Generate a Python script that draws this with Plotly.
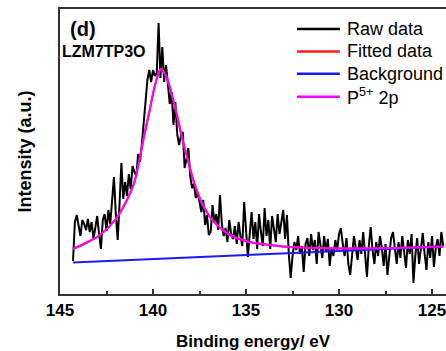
import plotly.graph_objects as go

# ---- data (intensity in arbitrary units) ----
raw_start = 144.3
raw_step = 0.1
raw_y = [
    33, 72, 79, 66, 58, 74, 70, 64, 75, 62, 72, 55, 68, 78, 60, 45, 74, 80, 63, 84,
    70, 96, 117, 80, 54, 90, 131, 95, 112, 98, 120, 105, 128, 122, 118, 140, 132, 150,
    172, 196, 214, 224, 212, 224, 218, 221, 271, 216, 247, 212, 229, 210, 190, 202,
    169, 192, 160, 149, 158, 162, 126, 135, 146, 118, 106, 110, 96, 102, 90, 82, 94,
    69, 79, 59, 62, 89, 72,
    80, 64, 99, 70, 58, 66, 52, 74, 60, 55, 68, 50, 72, 58, 48, 92, 66, 37, 60, 82,
    55, 72, 45, 80, 62, 48, 86, 58, 74, 45, 78, 66, 52, 80, 60, 72, 84, 55, 79, 40,
    16, 38, 52, 44, 58, 40, 48, 22, 50, 56, 38, 60, 44, 54, 30, 62, 48, 36, 58, 42,
    55, 28, 46, 38, 54, 44, 60, 66, 50, 38, 56, 30, 19, 42, 58, 46, 34, 54, 40, 62,
    36, 17, 48, 67, 44, 30, 52, 38, 58, 46, 28, 50, 19, 40, 56, 62, 42, 30, 52, 36,
    58, 44, 26, 54, 40, 60, 11, 38, 56, 30, 48, 61, 40, 24, 52, 36, 58, 27, 46, 55,
    38, 62, 48,
]
raw_x = [round(raw_start - raw_step * i, 2) for i in range(len(raw_y))]

fit_x = [144.3, 143.5, 142.85, 142.0, 141.4, 141.0, 140.7, 140.5, 140.2, 140.0,
         139.8, 139.57, 139.3, 139.0, 138.7, 138.44, 138.17, 137.8, 137.47, 136.94,
         136.5, 135.86, 134.8, 133.5, 132.6, 130.0, 127.0, 124.4]
fit_y = [45, 52, 59, 75, 94, 112, 137, 156, 182, 200,
         215, 225, 218, 200, 178, 156, 137, 112, 95, 77,
         68, 59, 52, 48.5, 47, 45.5, 46, 47.5]

bg_x = [144.3, 124.4]
bg_y = [31.5, 47.5]

x_ticks = [145, 140, 135, 130, 125]
x_minor = [142.5, 137.5, 132.5, 127.5]

series_names = ["Raw data", "Fitted data", "Background", "P<sup>5+</sup> 2p"]
series_colors = ["#000000", "#ff1a1a", "#1a1aff", "#ff00ff"]

font = "Liberation Sans, Arial, sans-serif"

fig = go.Figure()
fig.add_trace(go.Scatter(x=raw_x, y=raw_y, mode="lines", name=series_names[0],
                         line=dict(color=series_colors[0], width=2)))
fig.add_trace(go.Scatter(x=fit_x, y=fit_y, mode="lines", name=series_names[1],
                         line=dict(color=series_colors[1], width=2, shape="spline")))
fig.add_trace(go.Scatter(x=bg_x, y=bg_y, mode="lines", name=series_names[2],
                         line=dict(color=series_colors[2], width=2)))
fig.add_trace(go.Scatter(x=fit_x, y=fit_y, mode="lines", name=series_names[3],
                         line=dict(color=series_colors[3], width=2, shape="spline")))

# legend drawn as key lines + real text
leg_x0, leg_x1, leg_tx = 0.614, 0.725, 0.738
leg_rows = [0.930, 0.851, 0.773, 0.692]
shapes = []
annotations = []
for name, col, yy in zip(series_names, series_colors, leg_rows):
    shapes.append(dict(type="line", xref="paper", yref="paper",
                       x0=leg_x0, x1=leg_x1, y0=yy, y1=yy,
                       line=dict(color=col, width=2.5)))
    annotations.append(dict(text=name, xref="paper", yref="paper", x=leg_tx, y=yy,
                            xanchor="left", yanchor="middle", showarrow=False,
                            font=dict(family=font, size=18, color="#000")))

annotations += [
    dict(text="<b>(d)</b>", xref="paper", yref="paper", x=0.02, y=0.930,
         xanchor="left", yanchor="middle", showarrow=False,
         font=dict(family=font, size=20, color="#000")),
    dict(text="<b>LZM7TP3O</b>", xref="paper", yref="paper", x=0.0, y=0.8526,
         xanchor="left", yanchor="middle", showarrow=False,
         font=dict(family=font, size=16, color="#000")),
]

fig.update_layout(
    width=446, height=351,
    margin=dict(l=60, r=0, t=9, b=57),
    paper_bgcolor="white", plot_bgcolor="white",
    showlegend=False,
    font=dict(family=font, color="#000"),
    shapes=shapes,
    annotations=annotations,
)
fig.update_xaxes(
    range=[145, 124.25], tickvals=x_ticks,
    ticktext=["<b>%d</b>" % v for v in x_ticks],
    ticks="inside", ticklen=5, tickwidth=1.5, tickcolor="#333",
    minor=dict(tickvals=x_minor, ticks="inside", ticklen=3,
               tickwidth=1.5, tickcolor="#333"),
    showline=True, linecolor="#333", linewidth=1.5, mirror=True,
    showgrid=False, zeroline=False,
    ticklabeloverflow="allow",
    tickfont=dict(family=font, size=17, color="#000"),
    title=dict(text="<b>Binding energy/ eV</b>", standoff=17,
               font=dict(family=font, size=17, color="#000")),
)
fig.update_yaxes(
    range=[0, 285], showticklabels=False, ticks="",
    showline=True, linecolor="#333", linewidth=1.5, mirror=False,
    showgrid=False, zeroline=False,
    title=dict(text="<b>Intensity (a.u.)</b>", standoff=22,
               font=dict(family=font, size=18, color="#000")),
)

fig.write_html("out.html")
